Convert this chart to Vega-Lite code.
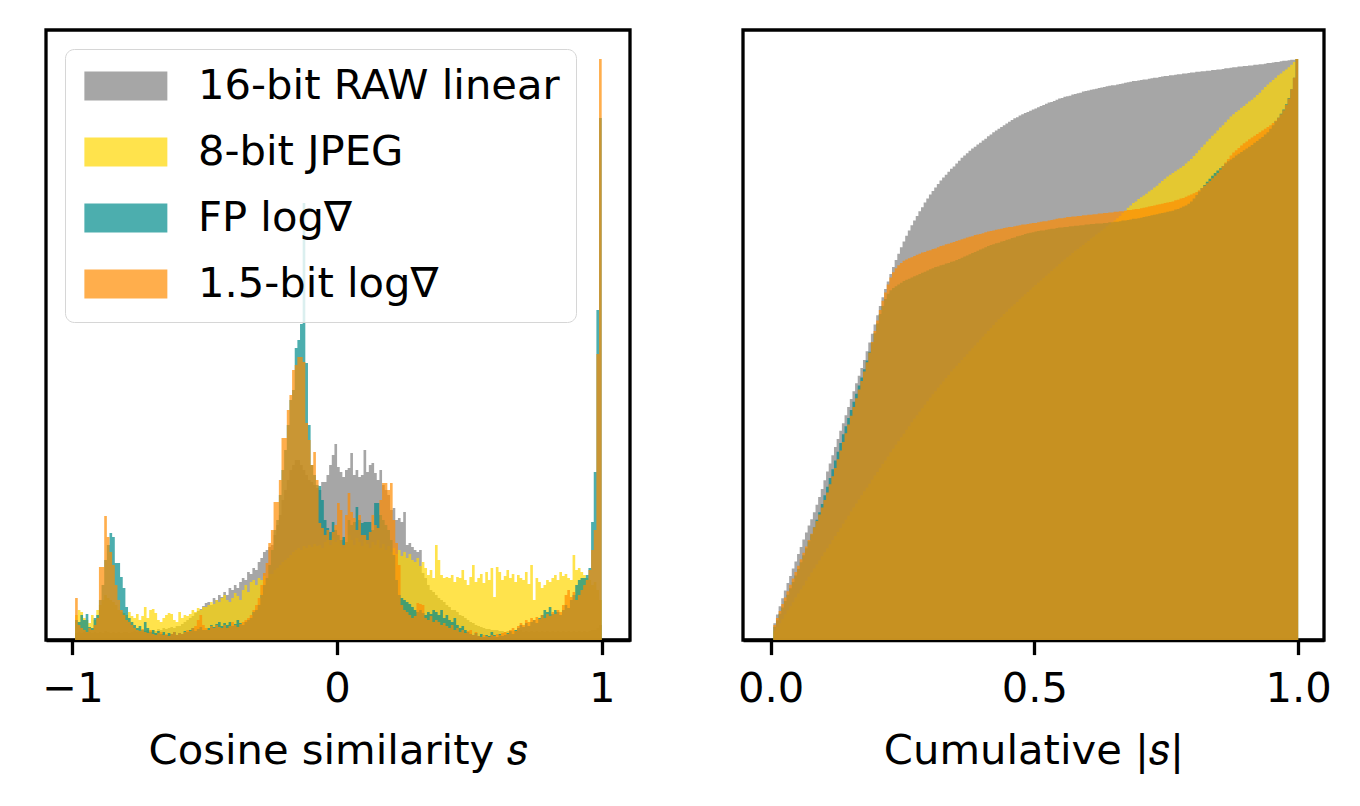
{
"$schema":"https://vega.github.io/schema/vega-lite/v6.json",
"background":"white",
"padding":{"left":40,"top":28,"right":0,"bottom":0},
"config":{
"view":{"stroke":"black","strokeWidth":3.3},
"font":"DejaVu Sans",
"axis":{"grid":false,"domain":true,"domainColor":"black","domainWidth":3.3,"ticks":true,"tickColor":"black","tickWidth":3.3,"tickSize":14.6,"labelFont":"DejaVu Sans","labelFontSize":41.7,"labelColor":"black","labelBaseline":"alphabetic","labelPadding":47,"labelFlush":false,"titleFont":"DejaVu Sans","titleFontSize":41.7,"titleFontWeight":"normal","titleColor":"black","titlePadding":20,"zindex":1}
},
"datasets":{
"left":[
{"s":-0.995,"a":6,"b":20,"c":10,"d":20},{"s":-0.985,"a":7,"b":25,"c":20,"d":42},{"s":-0.975,"a":8,"b":30,"c":18,"d":15},{"s":-0.965,"a":7,"b":28,"c":25,"d":12},{"s":-0.955,"a":8,"b":22,"c":20,"d":10},{"s":-0.945,"a":7,"b":20,"c":26,"d":8},{"s":-0.935,"a":8,"b":17,"c":13,"d":12},{"s":-0.925,"a":7,"b":25,"c":12,"d":10},{"s":-0.915,"a":8,"b":20,"c":22,"d":15},{"s":-0.905,"a":7,"b":30,"c":25,"d":22},
{"s":-0.895,"a":8,"b":35,"c":40,"d":73},{"s":-0.885,"a":7,"b":40,"c":55,"d":73},{"s":-0.875,"a":9,"b":45,"c":80,"d":124},{"s":-0.865,"a":8,"b":42,"c":95,"d":103},{"s":-0.855,"a":7,"b":40,"c":107,"d":88},{"s":-0.845,"a":8,"b":38,"c":103,"d":75},{"s":-0.835,"a":7,"b":35,"c":77,"d":55},{"s":-0.825,"a":8,"b":30,"c":77,"d":40},{"s":-0.815,"a":7,"b":28,"c":63,"d":30},{"s":-0.805,"a":8,"b":27,"c":52,"d":25},
{"s":-0.795,"a":8,"b":25,"c":33,"d":20},{"s":-0.785,"a":7,"b":28,"c":22,"d":18},{"s":-0.775,"a":8,"b":24,"c":18,"d":15},{"s":-0.765,"a":9,"b":22,"c":15,"d":12},{"s":-0.755,"a":8,"b":26,"c":12,"d":10},{"s":-0.745,"a":9,"b":20,"c":14,"d":9},{"s":-0.735,"a":8,"b":24,"c":10,"d":11},{"s":-0.725,"a":9,"b":33,"c":18,"d":8},{"s":-0.715,"a":10,"b":22,"c":12,"d":7},{"s":-0.705,"a":9,"b":30,"c":8,"d":10},
{"s":-0.695,"a":10,"b":31,"c":10,"d":6},{"s":-0.685,"a":9,"b":27,"c":7,"d":5},{"s":-0.675,"a":11,"b":20,"c":9,"d":7},{"s":-0.665,"a":10,"b":18,"c":6,"d":8},{"s":-0.655,"a":12,"b":22,"c":8,"d":5},{"s":-0.645,"a":11,"b":25,"c":5,"d":6},{"s":-0.635,"a":12,"b":27,"c":7,"d":4},{"s":-0.625,"a":13,"b":26,"c":6,"d":6},{"s":-0.615,"a":12,"b":20,"c":8,"d":8},{"s":-0.605,"a":14,"b":18,"c":5,"d":5},
{"s":-0.595,"a":14,"b":28,"c":7,"d":7},{"s":-0.585,"a":16,"b":22,"c":6,"d":6},{"s":-0.575,"a":18,"b":25,"c":9,"d":8},{"s":-0.565,"a":20,"b":24,"c":8,"d":10},{"s":-0.555,"a":22,"b":26,"c":10,"d":9},{"s":-0.545,"a":24,"b":30,"c":12,"d":12},{"s":-0.535,"a":27,"b":28,"c":9,"d":14},{"s":-0.525,"a":29,"b":32,"c":11,"d":20},{"s":-0.515,"a":31,"b":30,"c":13,"d":25},{"s":-0.505,"a":34,"b":33,"c":10,"d":15},
{"s":-0.495,"a":37,"b":33,"c":10,"d":12},{"s":-0.485,"a":38,"b":35,"c":12,"d":10},{"s":-0.475,"a":35,"b":38,"c":15,"d":14},{"s":-0.465,"a":42,"b":36,"c":13,"d":12},{"s":-0.455,"a":40,"b":40,"c":16,"d":15},{"s":-0.445,"a":45,"b":38,"c":18,"d":13},{"s":-0.435,"a":43,"b":42,"c":14,"d":12},{"s":-0.425,"a":48,"b":45,"c":17,"d":15},{"s":-0.415,"a":45,"b":40,"c":15,"d":12},{"s":-0.405,"a":52,"b":38,"c":18,"d":14},
{"s":-0.395,"a":50,"b":42,"c":14,"d":18},{"s":-0.385,"a":55,"b":47,"c":16,"d":15},{"s":-0.375,"a":52,"b":44,"c":20,"d":13},{"s":-0.365,"a":58,"b":40,"c":17,"d":16},{"s":-0.355,"a":62,"b":50,"c":15,"d":18},{"s":-0.345,"a":60,"b":55,"c":18,"d":20},{"s":-0.335,"a":68,"b":48,"c":20,"d":22},{"s":-0.325,"a":66,"b":58,"c":22,"d":25},{"s":-0.315,"a":72,"b":60,"c":28,"d":30},{"s":-0.305,"a":70,"b":55,"c":30,"d":35},
{"s":-0.295,"a":78,"b":62,"c":35,"d":42},{"s":-0.285,"a":82,"b":60,"c":45,"d":55},{"s":-0.275,"a":88,"b":64,"c":55,"d":67},{"s":-0.265,"a":90,"b":60,"c":62,"d":77},{"s":-0.255,"a":93,"b":66,"c":75,"d":97},{"s":-0.245,"a":95,"b":66,"c":90,"d":110},{"s":-0.235,"a":105,"b":70,"c":110,"d":138},{"s":-0.225,"a":115,"b":72,"c":120,"d":138},{"s":-0.215,"a":125,"b":75,"c":145,"d":160},{"s":-0.205,"a":140,"b":78,"c":170,"d":202},
{"s":-0.195,"a":150,"b":80,"c":190,"d":202},{"s":-0.185,"a":160,"b":82,"c":215,"d":230},{"s":-0.175,"a":170,"b":85,"c":240,"d":245},{"s":-0.165,"a":175,"b":88,"c":250,"d":270},{"s":-0.155,"a":180,"b":90,"c":292,"d":275},{"s":-0.145,"a":180,"b":92,"c":300,"d":283},{"s":-0.135,"a":175,"b":90,"c":316,"d":283},{"s":-0.125,"a":170,"b":94,"c":437,"d":278},{"s":-0.115,"a":165,"b":92,"c":277,"d":217},{"s":-0.105,"a":160,"b":95,"c":215,"d":200},
{"s":-0.095,"a":158,"b":93,"c":175,"d":175},{"s":-0.085,"a":155,"b":96,"c":165,"d":188},{"s":-0.075,"a":152,"b":94,"c":155,"d":160},{"s":-0.065,"a":150,"b":95,"c":154,"d":117},{"s":-0.055,"a":158,"b":92,"c":140,"d":112},{"s":-0.045,"a":158,"b":98,"c":120,"d":105},{"s":-0.035,"a":165,"b":100,"c":112,"d":110},{"s":-0.025,"a":175,"b":95,"c":108,"d":100},{"s":-0.015,"a":185,"b":102,"c":118,"d":108},{"s":-0.005,"a":196,"b":98,"c":110,"d":115},
{"s":0.005,"a":173,"b":100,"c":105,"d":137},{"s":0.015,"a":168,"b":96,"c":100,"d":130},{"s":0.025,"a":163,"b":92,"c":103,"d":95},{"s":0.035,"a":170,"b":98,"c":98,"d":125},{"s":0.045,"a":172,"b":105,"c":120,"d":147},{"s":0.055,"a":187,"b":100,"c":115,"d":128},{"s":0.065,"a":165,"b":95,"c":118,"d":122},{"s":0.075,"a":170,"b":102,"c":133,"d":110},{"s":0.085,"a":163,"b":98,"c":120,"d":125},{"s":0.095,"a":165,"b":94,"c":117,"d":105},
{"s":0.105,"a":190,"b":100,"c":118,"d":105},{"s":0.115,"a":168,"b":96,"c":118,"d":100},{"s":0.125,"a":175,"b":92,"c":118,"d":108},{"s":0.135,"a":177,"b":98,"c":110,"d":125},{"s":0.145,"a":167,"b":95,"c":137,"d":115},{"s":0.155,"a":160,"b":100,"c":137,"d":112},{"s":0.165,"a":170,"b":92,"c":125,"d":140},{"s":0.175,"a":155,"b":96,"c":120,"d":157},{"s":0.185,"a":150,"b":90,"c":115,"d":157},{"s":0.195,"a":145,"b":94,"c":110,"d":150},
{"s":0.205,"a":130,"b":88,"c":100,"d":157},{"s":0.215,"a":132,"b":92,"c":85,"d":120},{"s":0.225,"a":120,"b":86,"c":60,"d":97},{"s":0.235,"a":122,"b":90,"c":45,"d":75},{"s":0.245,"a":118,"b":84,"c":42,"d":35},{"s":0.255,"a":128,"b":88,"c":40,"d":30},{"s":0.265,"a":95,"b":82,"c":38,"d":28},{"s":0.275,"a":97,"b":86,"c":36,"d":25},{"s":0.285,"a":93,"b":80,"c":33,"d":22},{"s":0.295,"a":90,"b":78,"c":30,"d":24},
{"s":0.305,"a":88,"b":82,"c":28,"d":37},{"s":0.315,"a":90,"b":74,"c":30,"d":36},{"s":0.325,"a":67,"b":78,"c":27,"d":35},{"s":0.335,"a":62,"b":72,"c":25,"d":22},{"s":0.345,"a":55,"b":65,"c":28,"d":20},{"s":0.355,"a":50,"b":70,"c":26,"d":24},{"s":0.365,"a":48,"b":62,"c":30,"d":18},{"s":0.375,"a":45,"b":95,"c":28,"d":20},{"s":0.385,"a":42,"b":80,"c":25,"d":18},{"s":0.395,"a":40,"b":65,"c":30,"d":15},
{"s":0.405,"a":38,"b":62,"c":22,"d":17},{"s":0.415,"a":35,"b":63,"c":25,"d":14},{"s":0.425,"a":33,"b":62,"c":20,"d":12},{"s":0.435,"a":30,"b":65,"c":18,"d":15},{"s":0.445,"a":30,"b":58,"c":22,"d":10},{"s":0.455,"a":28,"b":63,"c":15,"d":12},{"s":0.465,"a":25,"b":62,"c":12,"d":8},{"s":0.475,"a":24,"b":70,"c":14,"d":10},{"s":0.485,"a":22,"b":60,"c":10,"d":7},{"s":0.495,"a":20,"b":55,"c":8,"d":9},
{"s":0.505,"a":18,"b":63,"c":6,"d":10},{"s":0.515,"a":17,"b":75,"c":5,"d":5},{"s":0.525,"a":15,"b":58,"c":7,"d":8},{"s":0.535,"a":14,"b":62,"c":4,"d":4},{"s":0.545,"a":13,"b":66,"c":6,"d":3},{"s":0.555,"a":12,"b":57,"c":3,"d":5},{"s":0.565,"a":11,"b":68,"c":5,"d":4},{"s":0.575,"a":11,"b":60,"c":4,"d":3},{"s":0.585,"a":10,"b":72,"c":8,"d":5},{"s":0.595,"a":10,"b":43,"c":5,"d":4},
{"s":0.605,"a":10,"b":73,"c":3,"d":6},{"s":0.615,"a":9,"b":68,"c":6,"d":5},{"s":0.625,"a":9,"b":60,"c":4,"d":7},{"s":0.635,"a":8,"b":64,"c":5,"d":8},{"s":0.645,"a":9,"b":70,"c":7,"d":6},{"s":0.655,"a":8,"b":62,"c":9,"d":10},{"s":0.665,"a":9,"b":66,"c":6,"d":12},{"s":0.675,"a":10,"b":58,"c":10,"d":9},{"s":0.685,"a":9,"b":65,"c":12,"d":14},{"s":0.695,"a":10,"b":62,"c":15,"d":17},
{"s":0.705,"a":8,"b":60,"c":13,"d":15},{"s":0.715,"a":9,"b":68,"c":17,"d":20},{"s":0.725,"a":8,"b":56,"c":14,"d":18},{"s":0.735,"a":9,"b":75,"c":18,"d":22},{"s":0.745,"a":8,"b":40,"c":20,"d":20},{"s":0.755,"a":9,"b":62,"c":17,"d":23},{"s":0.765,"a":8,"b":58,"c":22,"d":21},{"s":0.775,"a":9,"b":52,"c":25,"d":25},{"s":0.785,"a":8,"b":55,"c":30,"d":22},{"s":0.795,"a":9,"b":60,"c":28,"d":26},
{"s":0.805,"a":8,"b":58,"c":33,"d":24},{"s":0.815,"a":9,"b":62,"c":26,"d":28},{"s":0.825,"a":8,"b":65,"c":30,"d":26},{"s":0.835,"a":9,"b":60,"c":28,"d":30},{"s":0.845,"a":8,"b":68,"c":25,"d":28},{"s":0.855,"a":9,"b":64,"c":30,"d":35},{"s":0.865,"a":8,"b":66,"c":35,"d":45},{"s":0.875,"a":9,"b":62,"c":32,"d":50},{"s":0.885,"a":8,"b":60,"c":40,"d":43},{"s":0.895,"a":9,"b":85,"c":45,"d":48},
{"s":0.905,"a":8,"b":70,"c":55,"d":40},{"s":0.915,"a":9,"b":72,"c":60,"d":45},{"s":0.925,"a":8,"b":68,"c":62,"d":50},{"s":0.935,"a":9,"b":65,"c":62,"d":55},{"s":0.945,"a":8,"b":62,"c":65,"d":60},{"s":0.955,"a":9,"b":60,"c":72,"d":70},{"s":0.965,"a":10,"b":55,"c":118,"d":90},{"s":0.975,"a":10,"b":58,"c":168,"d":110},{"s":0.985,"a":12,"b":50,"c":330,"d":286},{"s":0.995,"a":15,"b":40,"c":522,"d":581}
],
"right":[
{"x":0.0025,"a":0.014,"b":0.007,"c":0.011,"d":0.013},{"x":0.0075,"a":0.029,"b":0.015,"c":0.023,"d":0.026},{"x":0.0125,"a":0.044,"b":0.022,"c":0.034,"d":0.038},{"x":0.0175,"a":0.058,"b":0.029,"c":0.045,"d":0.050},{"x":0.0225,"a":0.072,"b":0.036,"c":0.056,"d":0.062},{"x":0.0275,"a":0.085,"b":0.044,"c":0.067,"d":0.073},{"x":0.0325,"a":0.098,"b":0.051,"c":0.078,"d":0.084},{"x":0.0375,"a":0.110,"b":0.058,"c":0.089,"d":0.095},{"x":0.0425,"a":0.123,"b":0.065,"c":0.100,"d":0.106},{"x":0.0475,"a":0.135,"b":0.073,"c":0.111,"d":0.117},
{"x":0.0525,"a":0.148,"b":0.080,"c":0.122,"d":0.128},{"x":0.0575,"a":0.160,"b":0.087,"c":0.134,"d":0.139},{"x":0.0625,"a":0.173,"b":0.094,"c":0.146,"d":0.150},{"x":0.0675,"a":0.185,"b":0.102,"c":0.158,"d":0.161},{"x":0.0725,"a":0.197,"b":0.109,"c":0.170,"d":0.172},{"x":0.0775,"a":0.208,"b":0.116,"c":0.182,"d":0.183},{"x":0.0825,"a":0.220,"b":0.123,"c":0.194,"d":0.194},{"x":0.0875,"a":0.233,"b":0.130,"c":0.207,"d":0.205},{"x":0.0925,"a":0.246,"b":0.137,"c":0.220,"d":0.216},{"x":0.0975,"a":0.260,"b":0.144,"c":0.234,"d":0.228},
{"x":0.1025,"a":0.275,"b":0.151,"c":0.249,"d":0.241},{"x":0.1075,"a":0.290,"b":0.158,"c":0.264,"d":0.254},{"x":0.1125,"a":0.304,"b":0.165,"c":0.279,"d":0.268},{"x":0.1175,"a":0.318,"b":0.172,"c":0.294,"d":0.282},{"x":0.1225,"a":0.332,"b":0.179,"c":0.309,"d":0.296},{"x":0.1275,"a":0.346,"b":0.186,"c":0.324,"d":0.311},{"x":0.1325,"a":0.360,"b":0.193,"c":0.339,"d":0.326},{"x":0.1375,"a":0.373,"b":0.200,"c":0.354,"d":0.341},{"x":0.1425,"a":0.387,"b":0.207,"c":0.368,"d":0.356},{"x":0.1475,"a":0.401,"b":0.214,"c":0.382,"d":0.371},
{"x":0.1525,"a":0.415,"b":0.221,"c":0.396,"d":0.386},{"x":0.1575,"a":0.428,"b":0.228,"c":0.410,"d":0.401},{"x":0.1625,"a":0.442,"b":0.235,"c":0.424,"d":0.416},{"x":0.1675,"a":0.455,"b":0.242,"c":0.438,"d":0.431},{"x":0.1725,"a":0.468,"b":0.249,"c":0.452,"d":0.446},{"x":0.1775,"a":0.482,"b":0.256,"c":0.466,"d":0.462},{"x":0.1825,"a":0.497,"b":0.262,"c":0.481,"d":0.478},{"x":0.1875,"a":0.512,"b":0.269,"c":0.496,"d":0.495},{"x":0.1925,"a":0.527,"b":0.276,"c":0.512,"d":0.513},{"x":0.1975,"a":0.543,"b":0.283,"c":0.528,"d":0.532},
{"x":0.2025,"a":0.559,"b":0.289,"c":0.545,"d":0.550},{"x":0.2075,"a":0.575,"b":0.296,"c":0.561,"d":0.568},{"x":0.2125,"a":0.590,"b":0.303,"c":0.575,"d":0.584},{"x":0.2175,"a":0.604,"b":0.309,"c":0.587,"d":0.598},{"x":0.2225,"a":0.617,"b":0.316,"c":0.596,"d":0.612},{"x":0.2275,"a":0.630,"b":0.323,"c":0.602,"d":0.624},{"x":0.2325,"a":0.642,"b":0.329,"c":0.606,"d":0.633},{"x":0.2375,"a":0.654,"b":0.336,"c":0.609,"d":0.640},{"x":0.2425,"a":0.665,"b":0.342,"c":0.612,"d":0.645},{"x":0.2475,"a":0.676,"b":0.349,"c":0.615,"d":0.649},
{"x":0.2525,"a":0.686,"b":0.355,"c":0.618,"d":0.653},{"x":0.2575,"a":0.696,"b":0.362,"c":0.620,"d":0.655},{"x":0.2625,"a":0.705,"b":0.368,"c":0.622,"d":0.657},{"x":0.2675,"a":0.714,"b":0.375,"c":0.624,"d":0.659},{"x":0.2725,"a":0.722,"b":0.381,"c":0.626,"d":0.661},{"x":0.2775,"a":0.730,"b":0.387,"c":0.628,"d":0.663},{"x":0.2825,"a":0.738,"b":0.393,"c":0.630,"d":0.665},{"x":0.2875,"a":0.745,"b":0.399,"c":0.632,"d":0.667},{"x":0.2925,"a":0.753,"b":0.405,"c":0.634,"d":0.668},{"x":0.2975,"a":0.760,"b":0.411,"c":0.636,"d":0.670},
{"x":0.3025,"a":0.767,"b":0.417,"c":0.638,"d":0.671},{"x":0.3075,"a":0.773,"b":0.423,"c":0.640,"d":0.673},{"x":0.3125,"a":0.779,"b":0.428,"c":0.642,"d":0.674},{"x":0.3175,"a":0.785,"b":0.434,"c":0.643,"d":0.676},{"x":0.3225,"a":0.791,"b":0.440,"c":0.645,"d":0.678},{"x":0.3275,"a":0.796,"b":0.445,"c":0.646,"d":0.679},{"x":0.3325,"a":0.801,"b":0.451,"c":0.648,"d":0.681},{"x":0.3375,"a":0.806,"b":0.456,"c":0.649,"d":0.682},{"x":0.3425,"a":0.811,"b":0.462,"c":0.651,"d":0.684},{"x":0.3475,"a":0.815,"b":0.467,"c":0.652,"d":0.685},
{"x":0.3525,"a":0.820,"b":0.472,"c":0.654,"d":0.687},{"x":0.3575,"a":0.825,"b":0.477,"c":0.656,"d":0.688},{"x":0.3625,"a":0.830,"b":0.482,"c":0.658,"d":0.690},{"x":0.3675,"a":0.834,"b":0.487,"c":0.660,"d":0.691},{"x":0.3725,"a":0.838,"b":0.492,"c":0.662,"d":0.693},{"x":0.3775,"a":0.842,"b":0.497,"c":0.664,"d":0.694},{"x":0.3825,"a":0.846,"b":0.502,"c":0.666,"d":0.695},{"x":0.3875,"a":0.849,"b":0.507,"c":0.668,"d":0.697},{"x":0.3925,"a":0.853,"b":0.512,"c":0.670,"d":0.698},{"x":0.3975,"a":0.856,"b":0.517,"c":0.672,"d":0.699},
{"x":0.4025,"a":0.860,"b":0.522,"c":0.674,"d":0.700},{"x":0.4075,"a":0.863,"b":0.527,"c":0.676,"d":0.702},{"x":0.4125,"a":0.867,"b":0.532,"c":0.678,"d":0.703},{"x":0.4175,"a":0.870,"b":0.537,"c":0.680,"d":0.704},{"x":0.4225,"a":0.874,"b":0.542,"c":0.681,"d":0.705},{"x":0.4275,"a":0.877,"b":0.547,"c":0.683,"d":0.706},{"x":0.4325,"a":0.880,"b":0.552,"c":0.684,"d":0.707},{"x":0.4375,"a":0.883,"b":0.556,"c":0.686,"d":0.708},{"x":0.4425,"a":0.886,"b":0.561,"c":0.687,"d":0.709},{"x":0.4475,"a":0.889,"b":0.565,"c":0.689,"d":0.710},
{"x":0.4525,"a":0.892,"b":0.570,"c":0.690,"d":0.711},{"x":0.4575,"a":0.895,"b":0.574,"c":0.692,"d":0.711},{"x":0.4625,"a":0.898,"b":0.578,"c":0.693,"d":0.712},{"x":0.4675,"a":0.900,"b":0.582,"c":0.695,"d":0.713},{"x":0.4725,"a":0.903,"b":0.587,"c":0.696,"d":0.714},{"x":0.4775,"a":0.905,"b":0.591,"c":0.697,"d":0.715},{"x":0.4825,"a":0.907,"b":0.595,"c":0.699,"d":0.715},{"x":0.4875,"a":0.909,"b":0.599,"c":0.700,"d":0.716},{"x":0.4925,"a":0.911,"b":0.603,"c":0.701,"d":0.717},{"x":0.4975,"a":0.913,"b":0.607,"c":0.702,"d":0.718},
{"x":0.5025,"a":0.915,"b":0.611,"c":0.703,"d":0.718},{"x":0.5075,"a":0.917,"b":0.615,"c":0.704,"d":0.719},{"x":0.5125,"a":0.919,"b":0.619,"c":0.705,"d":0.720},{"x":0.5175,"a":0.921,"b":0.623,"c":0.705,"d":0.721},{"x":0.5225,"a":0.923,"b":0.627,"c":0.706,"d":0.721},{"x":0.5275,"a":0.925,"b":0.631,"c":0.707,"d":0.722},{"x":0.5325,"a":0.926,"b":0.635,"c":0.708,"d":0.723},{"x":0.5375,"a":0.928,"b":0.639,"c":0.708,"d":0.724},{"x":0.5425,"a":0.930,"b":0.643,"c":0.709,"d":0.725},{"x":0.5475,"a":0.932,"b":0.647,"c":0.710,"d":0.726},
{"x":0.5525,"a":0.933,"b":0.651,"c":0.710,"d":0.726},{"x":0.5575,"a":0.935,"b":0.655,"c":0.711,"d":0.727},{"x":0.5625,"a":0.936,"b":0.659,"c":0.711,"d":0.728},{"x":0.5675,"a":0.937,"b":0.662,"c":0.712,"d":0.728},{"x":0.5725,"a":0.939,"b":0.666,"c":0.712,"d":0.729},{"x":0.5775,"a":0.940,"b":0.670,"c":0.713,"d":0.729},{"x":0.5825,"a":0.941,"b":0.673,"c":0.713,"d":0.730},{"x":0.5875,"a":0.942,"b":0.677,"c":0.714,"d":0.730},{"x":0.5925,"a":0.944,"b":0.680,"c":0.714,"d":0.731},{"x":0.5975,"a":0.945,"b":0.684,"c":0.715,"d":0.731},
{"x":0.6025,"a":0.946,"b":0.687,"c":0.715,"d":0.732},{"x":0.6075,"a":0.947,"b":0.691,"c":0.716,"d":0.732},{"x":0.6125,"a":0.948,"b":0.694,"c":0.716,"d":0.733},{"x":0.6175,"a":0.949,"b":0.698,"c":0.717,"d":0.733},{"x":0.6225,"a":0.950,"b":0.701,"c":0.717,"d":0.734},{"x":0.6275,"a":0.951,"b":0.705,"c":0.717,"d":0.734},{"x":0.6325,"a":0.952,"b":0.708,"c":0.718,"d":0.735},{"x":0.6375,"a":0.953,"b":0.712,"c":0.718,"d":0.735},{"x":0.6425,"a":0.954,"b":0.715,"c":0.719,"d":0.736},{"x":0.6475,"a":0.955,"b":0.719,"c":0.719,"d":0.736},
{"x":0.6525,"a":0.955,"b":0.722,"c":0.720,"d":0.737},{"x":0.6575,"a":0.956,"b":0.726,"c":0.720,"d":0.737},{"x":0.6625,"a":0.957,"b":0.730,"c":0.721,"d":0.738},{"x":0.6675,"a":0.958,"b":0.735,"c":0.722,"d":0.738},{"x":0.6725,"a":0.959,"b":0.739,"c":0.722,"d":0.739},{"x":0.6775,"a":0.960,"b":0.744,"c":0.723,"d":0.740},{"x":0.6825,"a":0.961,"b":0.748,"c":0.724,"d":0.740},{"x":0.6875,"a":0.962,"b":0.752,"c":0.725,"d":0.741},{"x":0.6925,"a":0.962,"b":0.755,"c":0.725,"d":0.742},{"x":0.6975,"a":0.963,"b":0.759,"c":0.726,"d":0.742},
{"x":0.7025,"a":0.964,"b":0.762,"c":0.727,"d":0.743},{"x":0.7075,"a":0.965,"b":0.765,"c":0.728,"d":0.744},{"x":0.7125,"a":0.965,"b":0.768,"c":0.729,"d":0.745},{"x":0.7175,"a":0.966,"b":0.772,"c":0.730,"d":0.746},{"x":0.7225,"a":0.967,"b":0.775,"c":0.731,"d":0.747},{"x":0.7275,"a":0.968,"b":0.779,"c":0.732,"d":0.748},{"x":0.7325,"a":0.968,"b":0.782,"c":0.733,"d":0.749},{"x":0.7375,"a":0.969,"b":0.786,"c":0.734,"d":0.750},{"x":0.7425,"a":0.970,"b":0.790,"c":0.735,"d":0.751},{"x":0.7475,"a":0.971,"b":0.794,"c":0.736,"d":0.752},
{"x":0.7525,"a":0.971,"b":0.798,"c":0.737,"d":0.753},{"x":0.7575,"a":0.972,"b":0.801,"c":0.738,"d":0.754},{"x":0.7625,"a":0.972,"b":0.804,"c":0.739,"d":0.755},{"x":0.7675,"a":0.973,"b":0.807,"c":0.741,"d":0.757},{"x":0.7725,"a":0.974,"b":0.810,"c":0.742,"d":0.758},{"x":0.7775,"a":0.974,"b":0.813,"c":0.744,"d":0.760},{"x":0.7825,"a":0.975,"b":0.816,"c":0.746,"d":0.761},{"x":0.7875,"a":0.975,"b":0.820,"c":0.748,"d":0.763},{"x":0.7925,"a":0.976,"b":0.824,"c":0.751,"d":0.765},{"x":0.7975,"a":0.977,"b":0.828,"c":0.755,"d":0.767},
{"x":0.8025,"a":0.977,"b":0.833,"c":0.760,"d":0.769},{"x":0.8075,"a":0.978,"b":0.838,"c":0.766,"d":0.771},{"x":0.8125,"a":0.978,"b":0.843,"c":0.772,"d":0.774},{"x":0.8175,"a":0.979,"b":0.848,"c":0.778,"d":0.778},{"x":0.8225,"a":0.979,"b":0.853,"c":0.783,"d":0.782},{"x":0.8275,"a":0.980,"b":0.858,"c":0.789,"d":0.786},{"x":0.8325,"a":0.980,"b":0.863,"c":0.794,"d":0.790},{"x":0.8375,"a":0.981,"b":0.868,"c":0.799,"d":0.795},{"x":0.8425,"a":0.981,"b":0.872,"c":0.804,"d":0.799},{"x":0.8475,"a":0.982,"b":0.877,"c":0.808,"d":0.804},
{"x":0.8525,"a":0.982,"b":0.882,"c":0.812,"d":0.810},{"x":0.8575,"a":0.983,"b":0.886,"c":0.816,"d":0.816},{"x":0.8625,"a":0.984,"b":0.891,"c":0.820,"d":0.822},{"x":0.8675,"a":0.984,"b":0.896,"c":0.824,"d":0.828},{"x":0.8725,"a":0.985,"b":0.901,"c":0.827,"d":0.834},{"x":0.8775,"a":0.986,"b":0.905,"c":0.830,"d":0.839},{"x":0.8825,"a":0.986,"b":0.909,"c":0.834,"d":0.843},{"x":0.8875,"a":0.987,"b":0.912,"c":0.837,"d":0.847},{"x":0.8925,"a":0.987,"b":0.916,"c":0.840,"d":0.851},{"x":0.8975,"a":0.988,"b":0.919,"c":0.843,"d":0.855},
{"x":0.9025,"a":0.988,"b":0.923,"c":0.846,"d":0.858},{"x":0.9075,"a":0.989,"b":0.927,"c":0.849,"d":0.862},{"x":0.9125,"a":0.989,"b":0.930,"c":0.852,"d":0.865},{"x":0.9175,"a":0.990,"b":0.934,"c":0.856,"d":0.868},{"x":0.9225,"a":0.990,"b":0.938,"c":0.859,"d":0.871},{"x":0.9275,"a":0.991,"b":0.942,"c":0.863,"d":0.874},{"x":0.9325,"a":0.991,"b":0.947,"c":0.866,"d":0.877},{"x":0.9375,"a":0.992,"b":0.952,"c":0.870,"d":0.880},{"x":0.9425,"a":0.993,"b":0.956,"c":0.874,"d":0.883},{"x":0.9475,"a":0.993,"b":0.960,"c":0.880,"d":0.886},
{"x":0.9525,"a":0.994,"b":0.964,"c":0.886,"d":0.890},{"x":0.9575,"a":0.995,"b":0.968,"c":0.893,"d":0.894},{"x":0.9625,"a":0.995,"b":0.972,"c":0.899,"d":0.899},{"x":0.9675,"a":0.996,"b":0.975,"c":0.906,"d":0.905},{"x":0.9725,"a":0.997,"b":0.979,"c":0.913,"d":0.912},{"x":0.9775,"a":0.997,"b":0.982,"c":0.922,"d":0.921},{"x":0.9825,"a":0.998,"b":0.986,"c":0.933,"d":0.932},{"x":0.9875,"a":0.999,"b":0.990,"c":0.948,"d":0.948},{"x":0.9925,"a":0.999,"b":0.995,"c":0.968,"d":0.968},{"x":0.9975,"a":1.0,"b":1.0,"c":1.0,"d":1.0}
]
},
"spacing":113,
"bounds":"flush",
"resolve":{"scale":{"color":"independent","x":"independent","y":"independent"}},
"hconcat":[
{
"width":584,"height":610,
"data":{"name":"left"},
"transform":[{"bin":{"extent":[-1,1],"step":0.01},"field":"s","as":["s0","s1"]},{"fold":["a","b","c","d"],"as":["k","v"]}],
"mark":{"type":"area","opacity":0.7,"interpolate":"step-before"},
"encoding":{
"x":{"field":"s1","type":"quantitative","scale":{"domain":[-1.1,1.107],"nice":false,"zero":false},"axis":{"values":[-1,0,1],"format":"d","title":"Cosine similarity 𝑠"}},
"y":{"field":"v","type":"quantitative","stack":null,"scale":{"domain":[0,610],"nice":false},"axis":null},
"color":{"field":"k","type":"nominal","scale":{"domain":["a","b","c","d"],"range":["#808080","#ffd700","#008b8b","#ff8c00"]},
"legend":{"title":null,"orient":"none","legendX":19,"legendY":19,"direction":"vertical",
"labelExpr":"{'a':'16-bit RAW linear','b':'8-bit JPEG','c':'FP log∇','d':'1.5-bit log∇'}[datum.label]",
"labelFont":"DejaVu Sans","labelFontSize":41.7,"labelColor":"black","labelLimit":800,"labelOffset":75,"rowPadding":23,"padding":16,
"fillColor":"rgba(255,255,255,0.8)","strokeColor":"#d6d6d6","cornerRadius":9,
"symbolType":"M-0.85,-0.7L3.15,-0.7L3.15,0.7L-0.85,0.7Z","symbolSize":1722,"symbolStrokeWidth":0,
"encode":{"legend":{"update":{"strokeWidth":{"value":3.5}}},"symbols":{"update":{"opacity":{"value":0.7},"fillOpacity":{"value":1},"strokeOpacity":{"value":0},"strokeWidth":{"value":0}}}}}}
}
},
{
"width":581,"height":610,
"data":{"name":"right"},
"transform":[{"bin":{"extent":[0,1],"step":0.005},"field":"x","as":["x0","x1"]},{"fold":["a","b","c","d"],"as":["k","v"]}],
"mark":{"type":"area","opacity":0.7,"interpolate":"step-before"},
"encoding":{
"x":{"field":"x1","type":"quantitative","scale":{"domain":[-0.0525,1.049],"nice":false,"zero":false},"axis":{"values":[0,0.5,1],"format":".1f","title":"Cumulative |𝑠|"}},
"y":{"field":"v","type":"quantitative","stack":null,"scale":{"domain":[0,1.05],"nice":false},"axis":null},
"color":{"field":"k","type":"nominal","scale":{"domain":["a","b","c","d"],"range":["#808080","#ffd700","#008b8b","#ff8c00"]},"legend":null}
}
}
]
}
